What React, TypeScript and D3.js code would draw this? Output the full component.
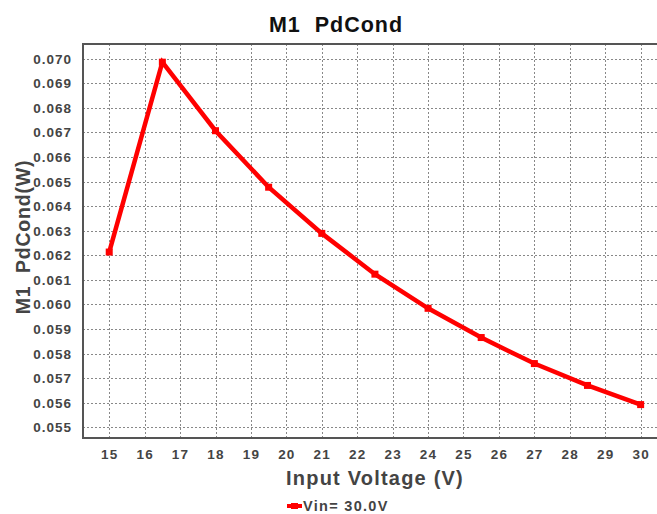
import { useEffect, useRef } from "react";
import * as d3 from "d3";

const voltages = [15, 16.5, 18, 19.5, 21, 22.5, 24, 25.5, 27, 28.5, 30];
const pdCond = [
  0.06213, 0.06986, 0.06707, 0.06477, 0.06289, 0.06123, 0.05984, 0.05865,
  0.05759, 0.0567, 0.05592,
];
const xTicks = d3.range(15, 31, 1);
const yTicks = [
  0.055, 0.056, 0.057, 0.058, 0.059, 0.06, 0.061, 0.062, 0.063, 0.064, 0.065,
  0.066, 0.067, 0.068, 0.069, 0.07,
];
const seriesName = "Vin= 30.0V";

const W = 657;
const H = 514;
const PLOT = { left: 83, top: 44, right: 658, bottom: 438 };
const FONT = "'Liberation Sans', Arial, sans-serif";

export default function App() {
  const svgRef = useRef<SVGSVGElement | null>(null);

  useEffect(() => {
    const svg = d3.select(svgRef.current);
    svg.selectAll("*").remove();

    const x = d3.scaleLinear().domain([14.26, 30.49]).range([PLOT.left, PLOT.right]);
    const y = d3.scaleLinear().domain([0.05456, 0.0706]).range([PLOT.bottom, PLOT.top]);

    svg.append("rect").attr("width", W).attr("height", H).attr("fill", "#fff");

    // grid
    const grid = svg.append("g").attr("stroke", "#888").attr("stroke-dasharray", "2 2").attr("stroke-width", 1);
    yTicks.forEach((t) => {
      const yy = Math.round(y(t)) + 0.5;
      grid.append("line").attr("x1", PLOT.left).attr("x2", PLOT.right).attr("y1", yy).attr("y2", yy);
    });
    xTicks.forEach((t) => {
      const xx = Math.round(x(t)) + 0.5;
      grid.append("line").attr("x1", xx).attr("x2", xx).attr("y1", PLOT.top).attr("y2", PLOT.bottom);
    });

    // frame
    const frame = svg.append("g").attr("stroke", "#555").attr("stroke-width", 2).attr("fill", "none");
    frame.append("line").attr("x1", PLOT.left).attr("x2", PLOT.right).attr("y1", PLOT.top).attr("y2", PLOT.top);
    frame.append("line").attr("x1", PLOT.left).attr("x2", PLOT.right).attr("y1", PLOT.bottom).attr("y2", PLOT.bottom);
    frame.append("line").attr("x1", PLOT.left).attr("x2", PLOT.left).attr("y1", PLOT.top - 1).attr("y2", PLOT.bottom + 1);

    // tick labels
    svg
      .append("g")
      .selectAll("text")
      .data(yTicks)
      .join("text")
      .attr("x", 72)
      .attr("y", (d) => y(d) + 5)
      .attr("text-anchor", "end")
      .attr("font-family", FONT)
      .attr("font-weight", "bold")
      .attr("font-size", 13.5)
      .attr("letter-spacing", 1)
      .attr("fill", "#444")
      .text((d) => d3.format(".3f")(d));

    svg
      .append("g")
      .selectAll("text")
      .data(xTicks)
      .join("text")
      .attr("x", (d) => x(d) + 0.5)
      .attr("y", 459)
      .attr("text-anchor", "middle")
      .attr("font-family", FONT)
      .attr("font-weight", "bold")
      .attr("font-size", 13.5)
      .attr("letter-spacing", 1.2)
      .attr("fill", "#444")
      .text((d) => String(d));

    // titles
    svg
      .append("text")
      .attr("x", 336)
      .attr("y", 32)
      .attr("text-anchor", "middle")
      .attr("font-family", FONT)
      .attr("font-weight", "bold")
      .attr("font-size", 21.5)
      .attr("letter-spacing", 1)
      .attr("fill", "#111")
      .attr("xml:space", "preserve")
      .text("M1  PdCond");

    svg
      .append("text")
      .attr("x", 375)
      .attr("y", 485)
      .attr("text-anchor", "middle")
      .attr("font-family", FONT)
      .attr("font-weight", "bold")
      .attr("font-size", 20)
      .attr("letter-spacing", 1.2)
      .attr("fill", "#444")
      .text("Input Voltage (V)");

    svg
      .append("text")
      .attr("transform", `translate(30,237) rotate(-90)`)
      .attr("text-anchor", "middle")
      .attr("font-family", FONT)
      .attr("font-weight", "bold")
      .attr("font-size", 19.5)
      .attr("letter-spacing", 0.8)
      .attr("fill", "#444")
      .attr("xml:space", "preserve")
      .text("M1  PdCond(W)");

    // series
    const pts = voltages.map((v, i) => [v, pdCond[i]] as [number, number]);
    const line = d3
      .line<[number, number]>()
      .x((d) => x(d[0]))
      .y((d) => y(d[1]));
    svg
      .append("path")
      .attr("d", line(pts) ?? "")
      .attr("fill", "none")
      .attr("stroke", "#ff0000")
      .attr("stroke-width", 4.5)
      .attr("stroke-linejoin", "miter");
    svg
      .append("g")
      .selectAll("rect")
      .data(pts)
      .join("rect")
      .attr("x", (d) => x(d[0]) - 3.5)
      .attr("y", (d) => y(d[1]) - 3.5)
      .attr("width", 7)
      .attr("height", 7)
      .attr("fill", "#ff0000");

    // legend
    svg.append("line").attr("x1", 287).attr("x2", 302).attr("y1", 506).attr("y2", 506).attr("stroke", "#ff0000").attr("stroke-width", 4);
    svg.append("rect").attr("x", 291).attr("y", 503).attr("width", 7).attr("height", 6).attr("fill", "#ff0000");
    svg
      .append("text")
      .attr("x", 303)
      .attr("y", 511)
      .attr("font-family", FONT)
      .attr("font-weight", "bold")
      .attr("font-size", 14.5)
      .attr("letter-spacing", 1.3)
      .attr("fill", "#444")
      .text(seriesName);
  }, []);

  return (
    <svg
      ref={svgRef}
      width={W}
      height={H}
      style={{ position: "absolute", left: 0, top: 0, display: "block" }}
    />
  );
}
